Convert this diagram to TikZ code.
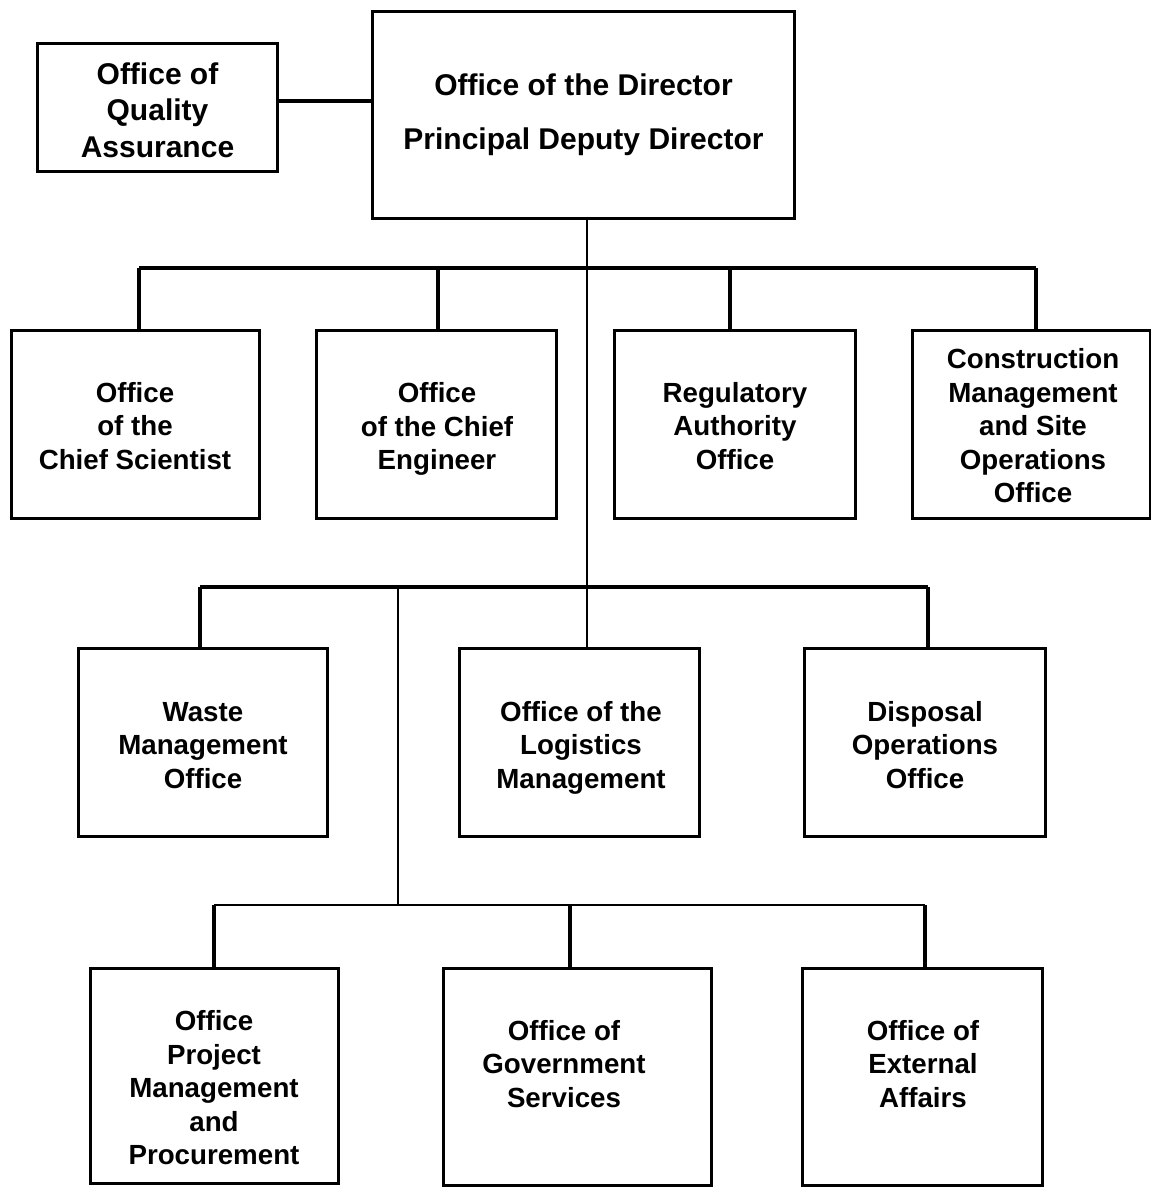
\documentclass[tikz,border=0pt]{standalone}
\usepackage{fontspec}
\setmainfont{Liberation Sans}
\begin{document}
\begin{tikzpicture}[x=1pt,y=-1pt,
  box/.style={draw=black,line width=3.4pt,rectangle,inner sep=0pt,fill=none},
  lbl/.style={align=center,font=\bfseries\fontsize{27.7}{33.5}\selectfont,inner sep=0pt},
  toplbl/.style={align=center,font=\bfseries\fontsize{30}{54}\selectfont,inner sep=0pt},
  qalbl/.style={align=center,font=\bfseries\fontsize{30}{36.5}\selectfont,inner sep=0pt},
  conn/.style={line width=3.2pt},
  thinconn/.style={line width=2.4pt}]
\useasboundingbox[fill=white] (0,0) rectangle (1150,1190);
% boxes
\node[box,minimum width=240,minimum height=128] (qa) at (157.5,107.5) {};
\node[qalbl] (qat) at (157.5,110) {Office of\\Quality\\Assurance};
\node[box,minimum width=422,minimum height=207] (dir) at (583.5,115) {};
\node[toplbl] (dirt) at (583.5,115) {Office of the Director\\Principal Deputy Director};
\node[box,minimum width=248,minimum height=188] (cs) at (135.5,424.5) {};
\node[lbl] (cst) at (135,426) {Office\\of the\\Chief Scientist};
\node[box,minimum width=240,minimum height=188] (ce) at (436.5,424.5) {};
\node[lbl] (cet) at (437,429) {Office\\of the Chief\\Engineer};
\node[box,minimum width=241,minimum height=188] (ra) at (735,424.5) {};
\node[lbl] (rat) at (735,426) {Regulatory\\Authority\\Office};
\node[box,minimum width=238,minimum height=188] (cm) at (1031.5,424.5) {};
\node[lbl] (cmt) at (1033,426) {Construction\\Management\\and Site\\Operations\\Office};
\node[box,minimum width=249,minimum height=188] (waste) at (203,742.5) {};
\node[lbl] (wastet) at (203,745.5) {Waste\\Management\\Office};
\node[box,minimum width=240,minimum height=188] (logi) at (579.5,742.5) {};
\node[lbl] (logit) at (581,747.5) {Office of the\\Logistics\\Management};
\node[box,minimum width=241,minimum height=188] (disp) at (925,742.5) {};
\node[lbl] (dispt) at (925,745) {Disposal\\Operations\\Office};
\node[box,minimum width=248,minimum height=215] (proj) at (214.5,1076) {};
\node[lbl] (projt) at (214,1088) {Office\\Project\\Management\\and\\Procurement};
\node[box,minimum width=268,minimum height=217] (gov) at (577.5,1077) {};
\node[lbl] (govt) at (564,1064) {Office of\\Government\\Services};
\node[box,minimum width=240,minimum height=217] (ext) at (922.5,1077) {};
\node[lbl] (extt) at (923,1064) {Office of\\External\\Affairs};
% junction coordinates
\coordinate (qaline) at (0,101);
\coordinate (spine) at (587,0);
\coordinate (bar1) at (0,268);
\coordinate (bar2) at (0,587);
\coordinate (bar3) at (0,905);
\coordinate (branch) at (398,0);
\coordinate (d1) at (139,0);
\coordinate (d2) at (438,0);
\coordinate (d3) at (730,0);
\coordinate (d4) at (1036,0);
\coordinate (w1) at (200,0);
\coordinate (w3) at (928,0);
\coordinate (b1) at (214,0);
\coordinate (b2) at (570,0);
\coordinate (b3) at (925,0);
% connectors
\draw[conn] (qa.east |- qaline) -- (dir.west |- qaline);
\draw[thinconn] (dir.south -| spine) -- (logi.north -| spine);
\draw[conn] (d1 |- bar1) -- (d4 |- bar1);
\draw[conn] (d1 |- bar1) -- (cs.north -| d1);
\draw[conn] (d2 |- bar1) -- (ce.north -| d2);
\draw[conn] (d3 |- bar1) -- (ra.north -| d3);
\draw[conn] (d4 |- bar1) -- (cm.north -| d4);
\draw[conn] (w1 |- bar2) -- (w3 |- bar2);
\draw[conn] (w1 |- bar2) -- (waste.north -| w1);
\draw[conn] (w3 |- bar2) -- (disp.north -| w3);
\draw[thinconn] (branch |- bar2) -- (branch |- bar3);
\draw[thinconn] (b1 |- bar3) -- (b3 |- bar3);
\draw[conn] (b1 |- bar3) -- (proj.north -| b1);
\draw[conn] (b2 |- bar3) -- (gov.north -| b2);
\draw[conn] (b3 |- bar3) -- (ext.north -| b3);
\end{tikzpicture}
\end{document}
